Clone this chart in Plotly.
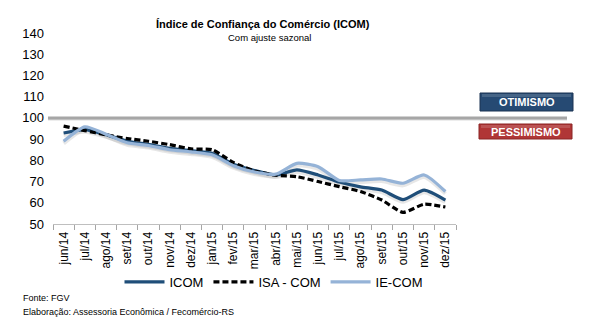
import plotly.graph_objects as go

months = ["jun/14", "jul/14", "ago/14", "set/14", "out/14", "nov/14", "dez/14",
          "jan/15", "fev/15", "mar/15", "abr/15", "mai/15", "jun/15", "jul/15",
          "ago/15", "set/15", "out/15", "nov/15", "dez/15"]
icom = [92.9, 94.5, 92.1, 89.0, 87.5, 85.7, 84.6, 83.3, 78.2, 75.2, 73.1, 75.5,
        73.1, 69.8, 67.5, 66.0, 61.5, 66.0, 61.3]
isa_com = [96.1, 94.0, 92.0, 90.3, 89.0, 87.4, 85.4, 85.0, 79.0, 75.0, 73.0, 72.3,
           70.0, 67.6, 65.3, 61.3, 55.5, 59.3, 58.0]
ie_com = [89.0, 95.8, 92.3, 88.3, 87.0, 85.0, 84.0, 82.6, 77.5, 74.5, 73.5, 78.6,
          77.0, 70.5, 70.8, 71.2, 69.2, 73.1, 65.3]
y_ticks = [50, 60, 70, 80, 90, 100, 110, 120, 130, 140]
threshold = 100

W, H = 590, 330
L, R, T, B = 53, 134, 33, 106
PW, PH = W - L - R, H - T - B


def px(x):
    return (x - L) / PW


def py(y):
    return (H - B - y) / PH


FONT = "Liberation Sans, Arial, sans-serif"

fig = go.Figure()
# soft shadows
for ys in (icom, ie_com):
    fig.add_trace(go.Scatter(x=months, y=[v - 1.0 for v in ys], mode="lines",
                             line=dict(color="rgba(120,120,120,0.18)", width=4, shape="spline", smoothing=0.6),
                             hoverinfo="skip", showlegend=False))
fig.add_trace(go.Scatter(x=months, y=icom, name="ICOM", mode="lines",
                         line=dict(color="#1f4e79", width=3.2, shape="spline", smoothing=0.6)))
fig.add_trace(go.Scatter(x=months, y=isa_com, name="ISA - COM", mode="lines",
                         line=dict(color="#000000", width=3.2, dash="6px,3px", shape="spline", smoothing=0.6)))
fig.add_trace(go.Scatter(x=months, y=ie_com, name="IE-COM", mode="lines",
                         line=dict(color="#95b3d7", width=3.2, shape="spline", smoothing=0.6)))

# 100 reference line
fig.add_shape(type="line", xref="paper", yref="y", x0=px(48), x1=px(567),
              y0=threshold - 0.5, y1=threshold - 0.5, line=dict(color="rgba(150,150,150,0.35)", width=3))
fig.add_shape(type="line", xref="paper", yref="y", x0=px(48), x1=px(567),
              y0=threshold, y1=threshold, line=dict(color="#a6a6a6", width=3))

# OTIMISMO / PESSIMISMO boxes
fig.add_shape(type="rect", xref="paper", yref="paper", x0=px(480), x1=px(573), y0=py(111), y1=py(93),
              fillcolor="#264a73", line=dict(color="#1a3352", width=1))
fig.add_shape(type="rect", xref="paper", yref="paper", x0=px(482), x1=px(571), y0=py(97), y1=py(94),
              fillcolor="rgba(255,255,255,0.15)", line=dict(width=0))
fig.add_annotation(text="<b>OTIMISMO</b>", xref="paper", yref="paper", x=px(526.5), y=py(102),
                   xanchor="center", yanchor="middle",
                   showarrow=False, font=dict(family=FONT, size=11, color="white"))
fig.add_shape(type="rect", xref="paper", yref="paper", x0=px(479), x1=px(572), y0=py(139), y1=py(124),
              fillcolor="#b03636", line=dict(color="#8a2424", width=1))
fig.add_shape(type="rect", xref="paper", yref="paper", x0=px(481), x1=px(570), y0=py(128), y1=py(125),
              fillcolor="rgba(255,255,255,0.15)", line=dict(width=0))
fig.add_annotation(text="<b>PESSIMISMO</b>", xref="paper", yref="paper", x=px(525.5), y=py(131.5),
                   xanchor="center", yanchor="middle",
                   showarrow=False, font=dict(family=FONT, size=11, color="white"))

# titles
fig.add_annotation(text="<b>Índice de Confiança do Comércio (ICOM)</b>", xref="paper", yref="paper",
                   x=px(263), y=py(24), xanchor="center", yanchor="middle",
                   showarrow=False, font=dict(family=FONT, size=11, color="#000"))
fig.add_annotation(text="Com ajuste sazonal", xref="paper", yref="paper",
                   x=px(269), y=py(38), xanchor="center", yanchor="middle",
                   showarrow=False, font=dict(family=FONT, size=9.5, color="#000"))

# footer
fig.add_annotation(text="Fonte: FGV", xref="paper", yref="paper", x=px(21), y=py(298),
                   xanchor="left", yanchor="middle", showarrow=False,
                   font=dict(family=FONT, size=9, color="#000"))
fig.add_annotation(text="Elaboração: Assessoria Econômica / Fecomércio-RS", xref="paper", yref="paper",
                   x=px(21), y=py(312), xanchor="left", yanchor="middle", showarrow=False,
                   font=dict(family=FONT, size=9, color="#000"))

fig.update_layout(
    width=W, height=H, margin=dict(l=L, r=R, t=T, b=B, autoexpand=False),
    paper_bgcolor="white", plot_bgcolor="white",
    showlegend=True,
    legend=dict(orientation="h", x=px(274), xanchor="center", y=py(282), yanchor="middle",
                font=dict(family=FONT, size=13, color="#000"), traceorder="normal",
                itemwidth=40, bgcolor="rgba(0,0,0,0)"),
    xaxis=dict(type="category", tickangle=-90, tickson="boundaries", ticks="outside",
               ticklen=5, tickcolor="#a6a6a6", showline=True, linecolor="#bfbfbf", linewidth=1,
               showgrid=False, tickfont=dict(family=FONT, size=12, color="#000"),
               ticklabelstandoff=2, range=[-0.5, len(months) - 0.5]),
    yaxis=dict(range=[50, 140], tickvals=y_ticks, showgrid=False, zeroline=False, showline=False,
               ticks="", ticklabelstandoff=8, tickfont=dict(family=FONT, size=13, color="#000")),
)

fig.write_html("out.html")
